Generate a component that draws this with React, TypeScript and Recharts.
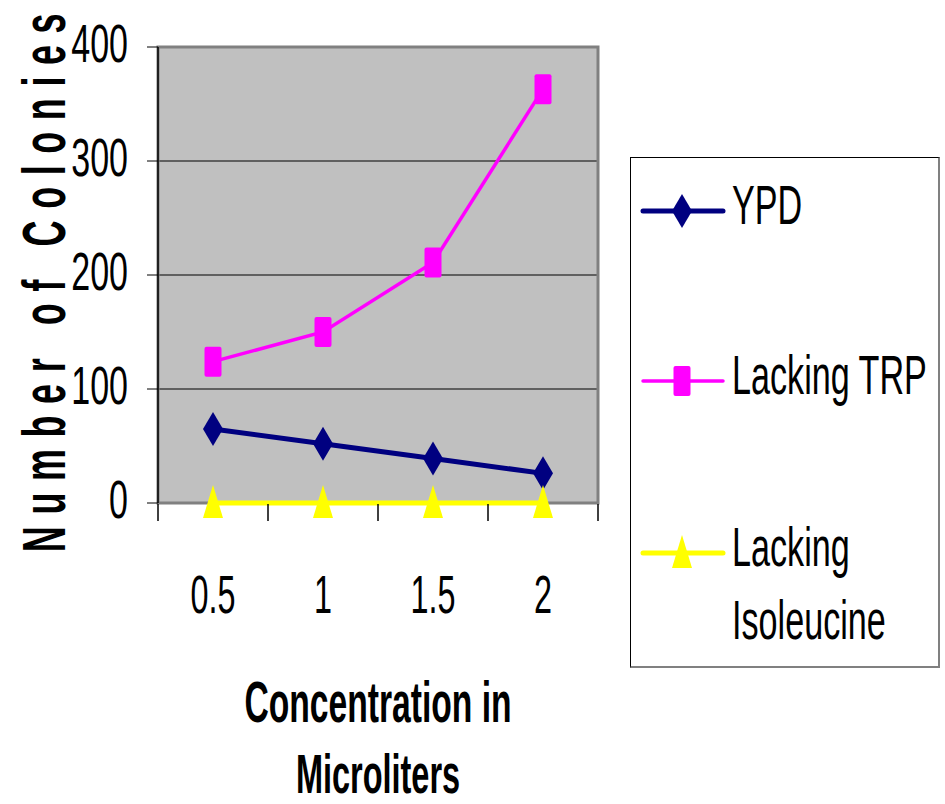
import React from 'react'
import {
  CartesianGrid,
  Legend,
  Line,
  LineChart,
  ReferenceArea,
  XAxis,
  YAxis,
} from 'recharts'

const concentrations = ['0.5', '1', '1.5', '2']
const ypd = [65, 52, 39, 26]
const lackingTrp = [124, 150, 211, 363]
const lackingIsoleucine = [0, 0, 0, 0]
const yTicks = [0, 100, 200, 300, 400]

const series = [
  { key: 'ypd', name: 'YPD', color: '#000080', width: 5, shape: 'diamond', lines: ['YPD'] },
  { key: 'trp', name: 'Lacking TRP', color: '#ff00ff', width: 3.5, shape: 'square', lines: ['Lacking TRP'] },
  {
    key: 'ile',
    name: 'Lacking Isoleucine',
    color: '#ffff00',
    width: 5,
    shape: 'triangle',
    lines: ['Lacking', 'Isoleucine'],
  },
]

const data = concentrations.map((c, i) => ({
  conc: c,
  ypd: ypd[i],
  trp: lackingTrp[i],
  ile: lackingIsoleucine[i],
}))

const FONT = '"Liberation Sans", Arial, sans-serif'

const Marker = ({ shape, cx, cy, color }: any) => {
  if (shape === 'diamond') {
    return (
      <polygon
        points={`${cx},${cy - 17} ${cx + 10},${cy} ${cx},${cy + 17} ${cx - 10},${cy}`}
        fill={color}
      />
    )
  }
  if (shape === 'square') {
    return <rect x={cx - 8.5} y={cy - 15} width={17} height={30} rx={2} fill={color} />
  }
  return (
    <polygon
      points={`${cx},${cy - 18} ${cx + 10},${cy + 15} ${cx - 10},${cy + 15}`}
      fill={color}
    />
  )
}

const makeDot = (shape: string, color: string) => (props: any) => {
  const { cx, cy, index } = props
  if (cx == null || cy == null) return <g key={index} />
  return <Marker key={index} shape={shape} cx={cx} cy={cy} color={color} />
}

const XTick = (props: any) => {
  const { x, y, payload, index, visibleTicksCount, width } = props
  const half = width / visibleTicksCount / 2
  return (
    <g>
      <line x1={x - half} x2={x - half} y1={y + 1} y2={y + 18} stroke="#000" strokeWidth={1.5} />
      {index === visibleTicksCount - 1 && (
        <line x1={x + half} x2={x + half} y1={y + 1} y2={y + 18} stroke="#000" strokeWidth={1.5} />
      )}
      <g transform={`translate(${x},${y + 110}) scale(0.6,1)`}>
        <text textAnchor="middle" fontSize={54} fontFamily={FONT} fill="#000">
          {payload.value}
        </text>
      </g>
    </g>
  )
}

const YTick = (props: any) => {
  const { x, y, payload } = props
  return (
    <g transform={`translate(${x},${y + 15}) scale(0.63,1)`}>
      <text textAnchor="end" fontSize={54} fontFamily={FONT} fill="#000">
        {payload.value}
      </text>
    </g>
  )
}

const XTitle = (props: any) => {
  const { x, y, width } = props.viewBox
  const cx = x + width / 2
  return (
    <g>
      <g transform={`translate(${cx},${y + 219}) scale(0.58,1)`}>
        <text textAnchor="middle" fontSize={58} fontWeight="bold" fontFamily={FONT} fill="#000">
          Concentration in
        </text>
      </g>
      <g transform={`translate(${cx},${y + 290}) scale(0.58,1)`}>
        <text textAnchor="middle" fontSize={56} fontWeight="bold" fontFamily={FONT} fill="#000">
          Microliters
        </text>
      </g>
    </g>
  )
}

const YTitle = (props: any) => {
  const { x, y, height } = props.viewBox
  return (
    <g transform={`translate(${x + 65},${y + height / 2 + 2}) rotate(-90) scale(0.58,1)`}>
      <text
        textAnchor="middle"
        fontSize={62}
        fontWeight="bold"
        letterSpacing={20}
        fontFamily={FONT}
        fill="#000"
      >
        Number of Colonies
      </text>
    </g>
  )
}

const LegendBox = () => {
  const rowY = [53, 223, 395]
  return (
    <div
      style={{
        width: 310,
        height: 511,
        boxSizing: 'border-box',
        border: '1px solid #000',
        borderRight: '2px solid #808080',
        borderBottom: '2px solid #808080',
        background: '#fff',
      }}
    >
      <svg width={308} height={509} style={{ display: 'block' }}>
        {series.map((s, i) => (
          <g key={s.key}>
            <line
              x1={12}
              x2={92}
              y1={rowY[i]}
              y2={rowY[i]}
              stroke={s.color}
              strokeWidth={s.width}
              strokeLinecap="round"
            />
            <Marker shape={s.shape} cx={51} cy={rowY[i]} color={s.color} />
            {s.lines.map((t, j) => (
              <g key={t} transform={`translate(101,${rowY[i] + 13 + j * 73}) scale(0.61,1)`}>
                <text fontSize={56} fontFamily={FONT} fill="#000">
                  {t}
                </text>
              </g>
            ))}
          </g>
        ))}
      </svg>
    </div>
  )
}

export default function App() {
  return (
    <div style={{ position: 'absolute', left: 0, top: 0, width: 945, height: 804, background: '#fff' }}>
      <LineChart
        width={945}
        height={804}
        data={data}
        margin={{ top: 47, right: 347, bottom: 0, left: 0 }}
      >
        <CartesianGrid vertical={false} stroke="#000" fill="#c0c0c0" fillOpacity={1} />
        <ReferenceArea y1={0} y2={400} fill="none" stroke="#808080" strokeWidth={3} />
        <XAxis
          dataKey="conc"
          scale="band"
          height={301}
          tickSize={0}
          tickMargin={0}
          tickLine={false}
          axisLine={false}
          tick={<XTick />}
          interval={0}
          label={{ content: <XTitle /> }}
        />
        <YAxis
          width={158}
          domain={[0, 400]}
          ticks={yTicks}
          tickSize={11}
          tickMargin={19}
          tickLine={{ stroke: '#000' }}
          axisLine={{ stroke: '#000', strokeWidth: 1.5 }}
          tick={<YTick />}
          interval={0}
          label={{ content: <YTitle /> }}
        />
        {series.map((s) => (
          <Line
            key={s.key}
            dataKey={s.key}
            name={s.name}
            stroke={s.color}
            strokeWidth={s.width}
            dot={makeDot(s.shape, s.color)}
            activeDot={false}
            isAnimationActive={false}
          />
        ))}
        <Legend
          layout="vertical"
          align="center"
          verticalAlign="middle"
          wrapperStyle={{ left: 630, top: 157, width: 310, height: 511 }}
          content={<LegendBox />}
        />
      </LineChart>
    </div>
  )
}
